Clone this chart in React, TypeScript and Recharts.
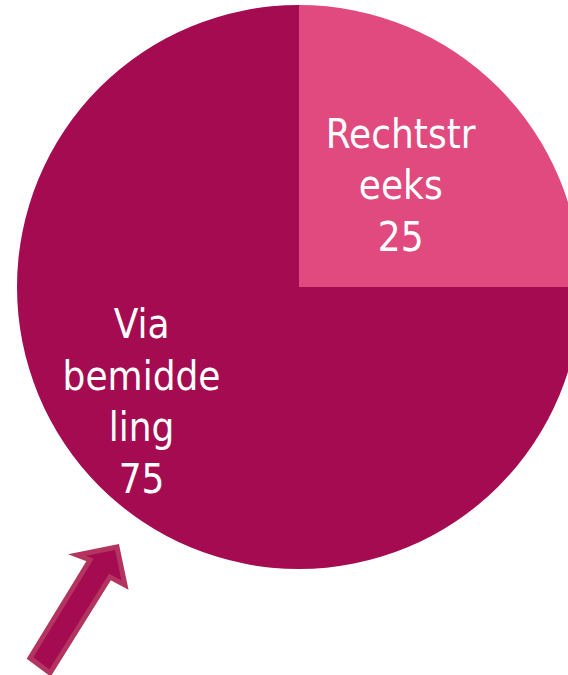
import { PieChart, Pie, Cell } from 'recharts';

const categories = ['Rechtstreeks', 'Via bemiddeling'];
const values = [25, 75];
// label text split into lines as on the slide
const labelLines = [
  ['Rechtstr', 'eeks', '25'],
  ['Via', 'bemidde', 'ling', '75'],
];
const colors = ['#E04A7E', '#A50B50'];

const data = categories.map((name, i) => ({ name, value: values[i] }));

const RADIAN = Math.PI / 180;
const FONT = '"DejaVu Sans Condensed", "DejaVu Sans", sans-serif';

// radius factor and angle nudge for where each label sits
const labelRadius = [0.51, 0.69];
const labelAngleShift = [0, -9];

function renderLabel(props: any) {
  const { cx, cy, midAngle, outerRadius, index } = props;
  const r = outerRadius * labelRadius[index];
  const a = (midAngle + labelAngleShift[index]) * RADIAN;
  const x = cx + r * Math.cos(a);
  const y = cy - r * Math.sin(a);
  const lines = labelLines[index];
  const lh = 51.5;
  const top = y - ((lines.length - 1) * lh) / 2;
  return (
    <text
      key={index}
      x={x}
      y={top}
      fill="#ffffff"
      textAnchor="middle"
      dominantBaseline="central"
      fontFamily={FONT}
      fontSize={40}
    >
      {lines.map((l, i) => (
        <tspan key={i} x={x} y={top + i * lh}>
          {l}
        </tspan>
      ))}
    </text>
  );
}

export default function App() {
  return (
    <div style={{ position: 'absolute', left: 0, top: 0, width: 568, height: 675, overflow: 'hidden' }}>
      <PieChart width={568} height={675} margin={{ top: 0, right: 0, bottom: 0, left: 0 }}>
        <Pie
          data={data}
          dataKey="value"
          nameKey="name"
          cx={299}
          cy={287}
          outerRadius={282}
          startAngle={90}
          endAngle={-270}
          stroke="none"
          label={renderLabel}
          labelLine={false}
          isAnimationActive={false}
        >
          {data.map((d, i) => (
            <Cell key={d.name} fill={colors[i]} />
          ))}
        </Pie>
      </PieChart>
      <svg
        width={568}
        height={675}
        style={{ position: 'absolute', left: 0, top: 0, pointerEvents: 'none' }}
      >
        <polygon
          points="30,658 90,560 77,555 117,547 125,585 110,577 50,673"
          fill="#A50B50"
          stroke="#B3345F"
          strokeWidth={5}
          strokeLinejoin="miter"
        />
      </svg>
    </div>
  );
}
